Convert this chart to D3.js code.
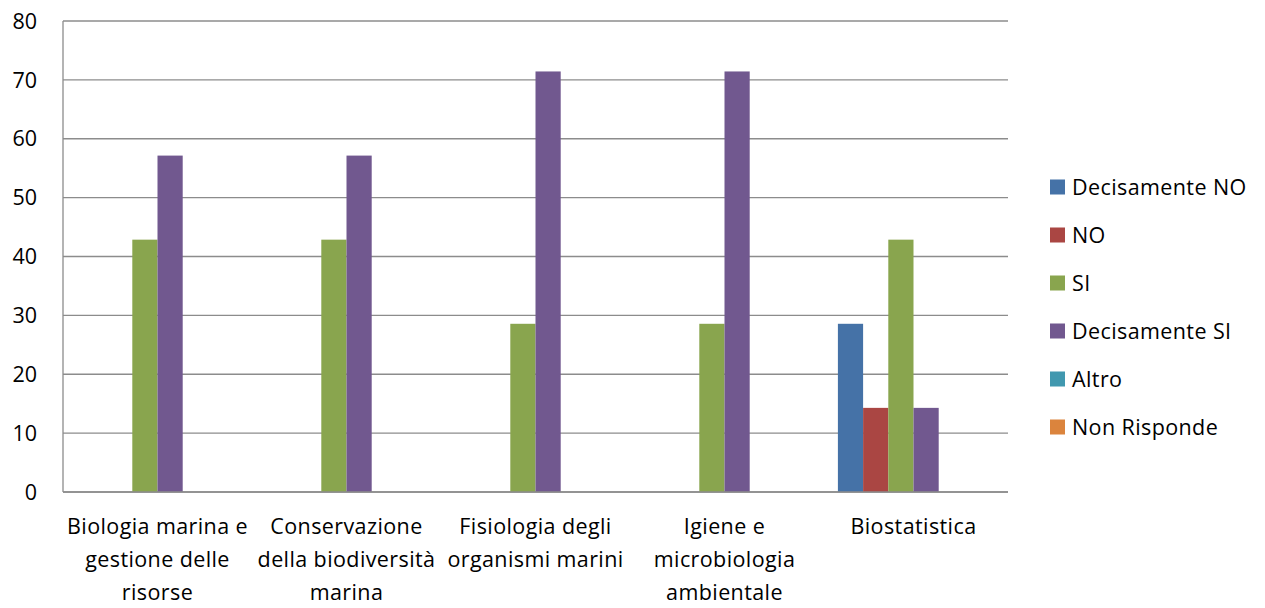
<!DOCTYPE html>
<html><head><meta charset="utf-8">
<script src="https://cdn.jsdelivr.net/npm/d3@7"></script>
<style>body{margin:0;background:#fff;} svg{display:block;} text{font-family:"Open Sans", sans-serif;fill:#000;}</style>
</head><body><svg id="c" width="1265" height="608"></svg>
<script>
const categories = [
  ["Biologia marina e","gestione delle","risorse"],
  ["Conservazione","della biodiversità","marina"],
  ["Fisiologia degli","organismi marini"],
  ["Igiene e","microbiologia","ambientale"],
  ["Biostatistica"]
];
const seriesNames = ["Decisamente NO","NO","SI","Decisamente SI","Altro","Non Risponde"];
const seriesColors = ["#4572A7","#AA4643","#89A54E","#71588F","#4198AF","#DB843D"];
const decisamenteNO = [0,0,0,0,28.57];
const no = [0,0,0,0,14.29];
const si = [42.86,42.86,28.57,28.57,42.86];
const decisamenteSI = [57.14,57.14,71.43,71.43,14.29];
const altro = [0,0,0,0,0];
const nonRisponde = [0,0,0,0,0];
const yTicks = [0,10,20,30,40,50,60,70,80];

const series = [decisamenteNO,no,si,decisamenteSI,altro,nonRisponde];
const svg = d3.select("#c");
const L=63,R=1008,T=21,B=492;
const FS = "21.5px", LS = "0.4px";
const x0 = d3.scaleBand().domain(d3.range(categories.length)).range([L,R]).paddingInner(0).paddingOuter(0);
const gw = x0.bandwidth();
const bw = gw/(series.length+1.5);
const x1 = d3.scaleBand().domain(d3.range(series.length)).range([0.75*bw, gw-0.75*bw]);
const y = d3.scaleLinear().domain([0,80]).range([B,T]);

svg.append("g").selectAll("line").data(yTicks).join("line")
  .attr("x1",L).attr("x2",R).attr("y1",d=>y(d)).attr("y2",d=>y(d))
  .attr("stroke","#8c8c8c").attr("stroke-width",1.3);

svg.append("g").selectAll("text").data(yTicks).join("text")
  .attr("x",37).attr("y",d=>y(d)).attr("dy","0.36em").attr("text-anchor","end")
  .style("font-size",FS).text(d=>d);

const g = svg.append("g");
series.forEach((s,si_)=>{
  g.selectAll(null).data(s).join("rect")
    .attr("x",(d,i)=>x0(i)+x1(si_)).attr("width",x1.bandwidth())
    .attr("y",d=>y(d)).attr("height",d=>B-y(d))
    .attr("fill",seriesColors[si_]);
});

svg.append("line").attr("x1",L).attr("x2",L).attr("y1",T).attr("y2",B).attr("stroke","#8c8c8c").attr("stroke-width",1.3);
svg.append("line").attr("x1",L).attr("x2",R).attr("y1",B).attr("y2",B).attr("stroke","#8c8c8c").attr("stroke-width",1.3);

categories.forEach((lines,i)=>{
  const t = svg.append("text").attr("text-anchor","middle").style("font-size",FS).style("letter-spacing",LS);
  lines.forEach((ln,j)=>{
    t.append("tspan").attr("x",x0(i)+gw/2).attr("y",526+j*33).attr("dy","0.36em").text(ln);
  });
});

const lg = svg.append("g");
seriesNames.forEach((n,i)=>{
  const cy = 187+i*48;
  lg.append("rect").attr("x",1050).attr("y",cy-7.5).attr("width",15).attr("height",15).attr("fill",seriesColors[i]);
  lg.append("text").attr("x",1072).attr("y",cy).attr("dy","0.36em").style("font-size",FS).style("letter-spacing",LS).text(n);
});
</script></body></html>
